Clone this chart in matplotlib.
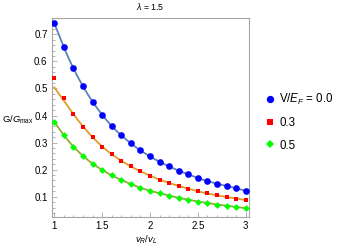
import matplotlib
matplotlib.use("Agg")
import matplotlib.pyplot as plt
from matplotlib.ticker import MultipleLocator, FixedLocator
import numpy as np

x = [1.0, 1.1, 1.2, 1.3, 1.4, 1.5, 1.6, 1.7, 1.8, 1.9, 2.0,
     2.1, 2.2, 2.3, 2.4, 2.5, 2.6, 2.7, 2.8, 2.9, 3.0]

g_v00 = [0.741, 0.652, 0.574, 0.508, 0.451, 0.403, 0.361, 0.327, 0.297, 0.271, 0.249,
         0.229, 0.212, 0.196, 0.183, 0.169, 0.158, 0.148, 0.140, 0.131, 0.122]
g_v03 = [0.537, 0.466, 0.407, 0.358, 0.320, 0.285, 0.257, 0.233, 0.212, 0.194, 0.178,
         0.163, 0.151, 0.140, 0.130, 0.120, 0.113, 0.105, 0.099, 0.093, 0.088]
g_v05 = [0.376, 0.327, 0.285, 0.251, 0.222, 0.199, 0.179, 0.162, 0.147, 0.133, 0.122,
         0.113, 0.104, 0.096, 0.089, 0.082, 0.077, 0.071, 0.067, 0.062, 0.058]

# fitted curves
fit_v00 = [0.741, 0.652, 0.574, 0.508, 0.451, 0.403, 0.361, 0.327, 0.297, 0.271, 0.249,
           0.229, 0.212, 0.196, 0.183, 0.169, 0.158, 0.148, 0.140, 0.131, 0.122]
fit_v03 = [0.504, 0.455, 0.405, 0.360, 0.320, 0.286, 0.257, 0.233, 0.212, 0.194, 0.178,
           0.163, 0.151, 0.140, 0.130, 0.120, 0.112, 0.105, 0.099, 0.093, 0.088]
fit_v05 = [0.376, 0.327, 0.285, 0.251, 0.222, 0.199, 0.179, 0.162, 0.147, 0.133, 0.122,
           0.113, 0.104, 0.096, 0.089, 0.082, 0.077, 0.071, 0.067, 0.062, 0.058]

legend_labels = [r"V/$E_F$ = 0.0", "0.3", "0.5"]
x_ticks = [1, 1.5, 2, 2.5, 3]
x_tick_labels = ["1", "1.5", "2", "2.5", "3"]
y_ticks = [0.1, 0.2, 0.3, 0.4, 0.5, 0.6, 0.7]

plt.rcParams['font.family'] = ['Liberation Sans', 'DejaVu Sans']
plt.rcParams['mathtext.fontset'] = 'custom'
plt.rcParams['mathtext.rm'] = 'Liberation Sans'
plt.rcParams['mathtext.it'] = 'Liberation Sans:italic'

fig = plt.figure(figsize=(3.5, 2.49), dpi=100)
ax = fig.add_axes([0.1477, 0.1273, 0.5646, 0.7992])


def smooth(xs, ys):
    xs = np.asarray(xs); ys = np.asarray(ys)
    xf = np.linspace(xs[0], xs[-1], 400)
    h = np.diff(xs); d = np.diff(ys) / h
    m = np.zeros_like(ys)
    m[0] = d[0]; m[-1] = d[-1]
    for i in range(1, len(xs) - 1):
        if d[i - 1] * d[i] > 0:
            m[i] = 2 / (1 / d[i - 1] + 1 / d[i])
    yf = np.empty_like(xf)
    idx = np.clip(np.searchsorted(xs, xf) - 1, 0, len(xs) - 2)
    for k, (xv, i) in enumerate(zip(xf, idx)):
        t = (xv - xs[i]) / h[i]
        h00 = 2*t**3 - 3*t**2 + 1; h10 = t**3 - 2*t**2 + t
        h01 = -2*t**3 + 3*t**2; h11 = t**3 - t**2
        yf[k] = h00*ys[i] + h10*h[i]*m[i] + h01*ys[i+1] + h11*h[i]*m[i+1]
    return xf, yf

line_colors = ['#5E81B5', '#E19C24', '#8FB032']
for fit, c in zip([fit_v00, fit_v03, fit_v05], line_colors):
    xf, yf = smooth(x, fit)
    ax.plot(xf, yf, color=c, lw=1.3, zorder=2)

h1, = ax.plot(x, g_v00, 'o', color='#0000FF', ms=4.8, mew=0, zorder=3)
h2, = ax.plot(x, g_v03, 's', color='#FF0000', ms=3.3, mew=0, zorder=3)
h3, = ax.plot(x, g_v05, 'D', color='#00FF00', ms=3.5, mew=0, zorder=3)

ax.set_xlim(0.973, 3.038)
ax.set_ylim(0.024, 0.759)

ax.xaxis.set_major_locator(FixedLocator(x_ticks))
ax.set_xticklabels(x_tick_labels)
ax.yaxis.set_major_locator(FixedLocator(y_ticks))
ax.set_yticklabels([f"{v:.1f}" for v in y_ticks])
ax.xaxis.set_minor_locator(MultipleLocator(0.1))
ax.yaxis.set_minor_locator(MultipleLocator(0.02))

for s in ax.spines.values():
    s.set_color('#A6A6A6')
    s.set_linewidth(0.8)
ax.tick_params(which='both', direction='in', color='#A6A6A6', width=0.6,
               top=False, right=False, labelsize=7, labelcolor='black', pad=3)
ax.tick_params(which='major', length=3.5)
ax.tick_params(which='minor', length=1.8)

ax.set_title(r"$\lambda$ = 1.5", fontsize=6.3, pad=6)
ax.set_xlabel(r"$v_R$/$v_L$", fontsize=6.8, va='center', ha='center')
ax.xaxis.set_label_coords(0.48, -0.113)
ax.set_ylabel(r"G/$G_{\mathrm{max}}$", fontsize=6.8, rotation=0, va='center', ha='center')
ax.yaxis.set_label_coords(-0.17, 0.49)

leg = fig.legend([h1, h2, h3], legend_labels, loc='upper left',
                 bbox_to_anchor=(0.745, 0.655), frameon=False, fontsize=8.3,
                 handlelength=0.6, handletextpad=0.5, labelspacing=0.9,
                 borderpad=0, markerscale=1.1)

fig.savefig("out.png", dpi=100)
